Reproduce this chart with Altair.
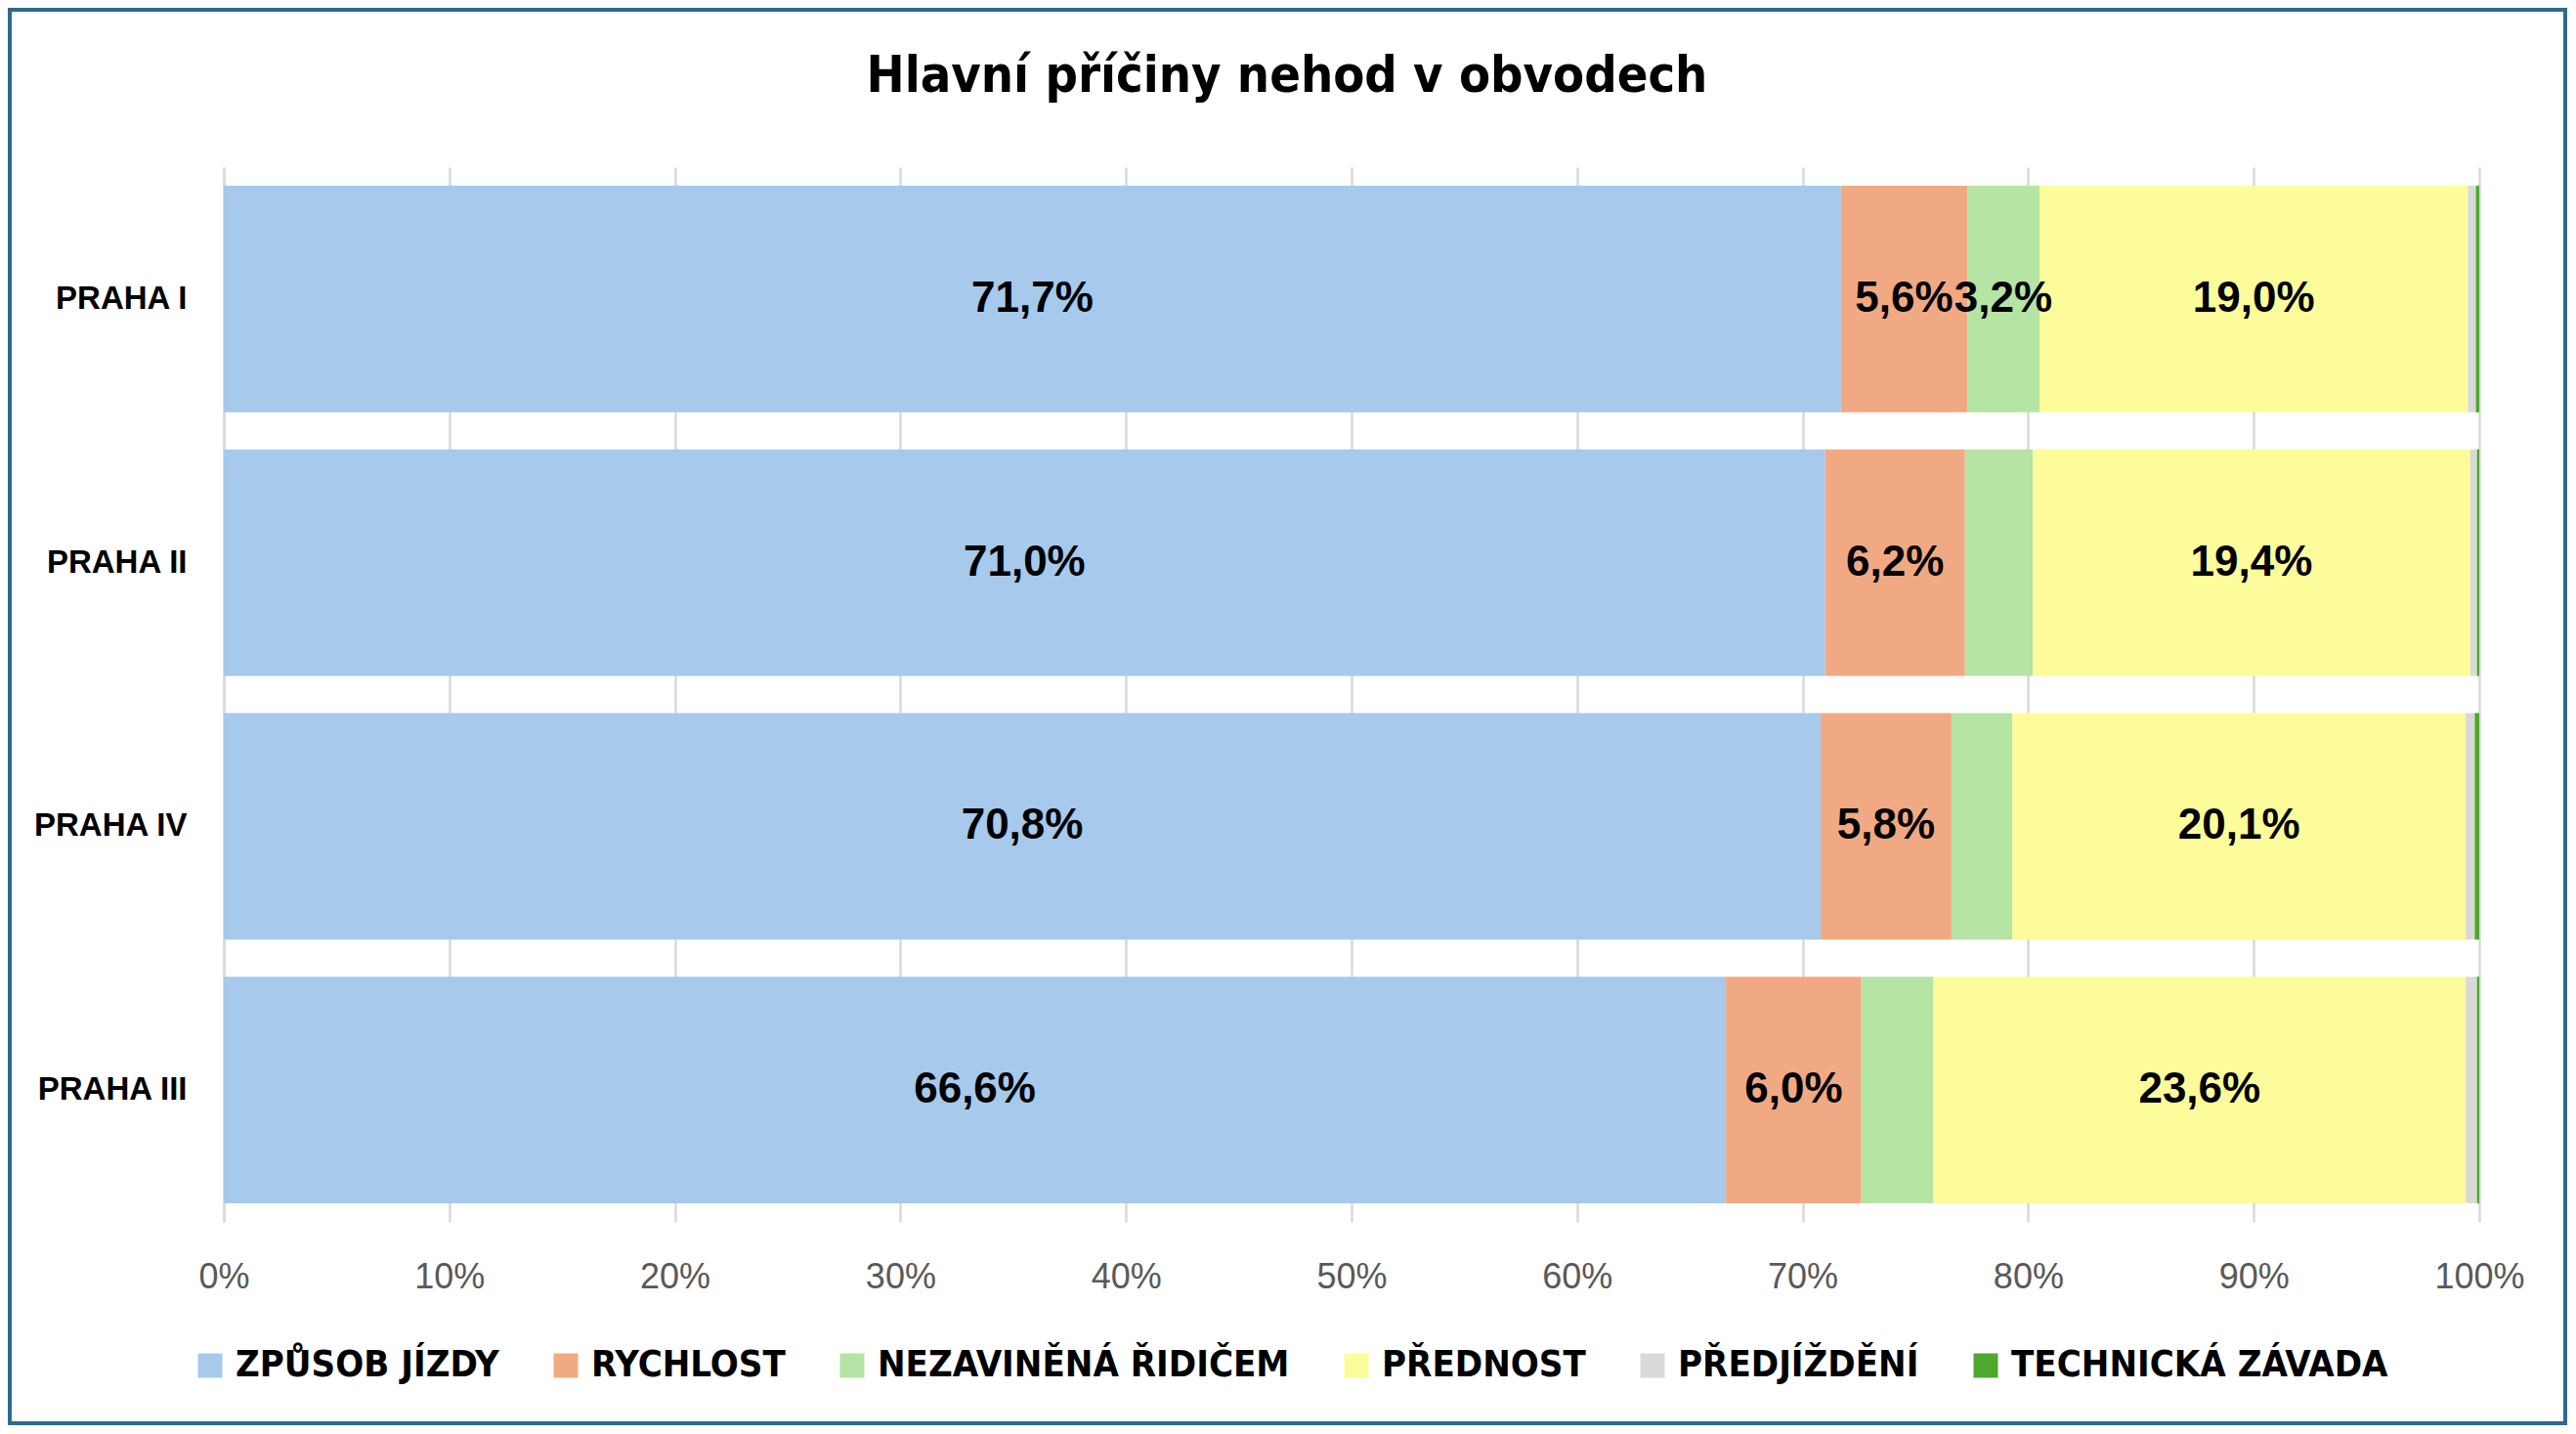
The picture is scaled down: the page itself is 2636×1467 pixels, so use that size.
import altair as alt
import pandas as pd

districts = ["PRAHA I", "PRAHA II", "PRAHA IV", "PRAHA III"]
causes = ["ZPŮSOB JÍZDY", "RYCHLOST", "NEZAVINĚNÁ ŘIDIČEM", "PŘEDNOST", "PŘEDJÍŽDĚNÍ", "TECHNICKÁ ZÁVADA"]
colors = ["#A6C9EC", "#F1A983", "#B5E4A4", "#FDFC9B", "#D9D9D9", "#4EA72E"]

zpusob_jizdy = [71.7, 71.0, 70.8, 66.6]
rychlost = [5.6, 6.2, 5.8, 6.0]
nezavinena = [3.2, 3.0, 2.7, 3.2]
prednost = [19.0, 19.4, 20.1, 23.6]
predjizdeni = [0.35, 0.3, 0.4, 0.5]
technicka = [0.15, 0.1, 0.2, 0.1]

# which segments carry a data label (per district, in district order)
label_shown = {
    "ZPŮSOB JÍZDY": [True, True, True, True],
    "RYCHLOST": [True, True, True, True],
    "NEZAVINĚNÁ ŘIDIČEM": [True, False, False, False],
    "PŘEDNOST": [True, True, True, True],
    "PŘEDJÍŽDĚNÍ": [False, False, False, False],
    "TECHNICKÁ ZÁVADA": [False, False, False, False],
}

series = [zpusob_jizdy, rychlost, nezavinena, prednost, predjizdeni, technicka]
rows = []
for ci, (cause, vals) in enumerate(zip(causes, series)):
    for di, (d, v) in enumerate(zip(districts, vals)):
        lab = (f"{v:.1f}".replace(".", ",") + "%") if label_shown[cause][di] else ""
        rows.append({"district": d, "cause": cause, "order": ci, "value": v, "label": lab})
df = pd.DataFrame(rows)

FONT_N = "DejaVu Sans Condensed"

base = alt.Chart(df).transform_stack(
    stack="value", as_=["x0", "x1"], groupby=["district"], sort=[alt.SortField("order")]
)

y_enc = alt.Y(
    "district:N",
    sort=districts,
    title=None,
    scale=alt.Scale(paddingInner=0.14, paddingOuter=0.07),
    axis=alt.Axis(
        labelFont="Liberation Sans", labelFontSize=33, labelFontWeight="bold", labelColor="#000000",
        labelPadding=38, ticks=False, domain=True, domainColor="#D9D9D9", domainWidth=2.5, grid=False,
    ),
)

bars = base.mark_bar().encode(
    x=alt.X(
        "x0:Q",
        title=None,
        scale=alt.Scale(domain=[0, 100], nice=False),
        axis=alt.Axis(
            values=[0, 10, 20, 30, 40, 50, 60, 70, 80, 90, 100],
            labelExpr="datum.value + '%'",
            labelFont="Liberation Sans", labelFontSize=36, labelColor="#595959",
            labelPadding=39, labelFlush=False, ticks=False, domain=False,
            grid=True, gridColor="#D9D9D9", gridWidth=2.5,
        ),
    ),
    x2="x1:Q",
    y=y_enc,
    color=alt.Color(
        "cause:N",
        scale=alt.Scale(domain=causes, range=colors),
        sort=causes,
        legend=alt.Legend(
            title=None, orient="none", direction="horizontal", legendX=-33, legendY=1207,
            symbolType="square", symbolSize=625, symbolStrokeWidth=0,
            labelFont=FONT_N, labelFontSize=38, labelFontWeight="bold", labelColor="#000000",
            labelLimit=800, labelOffset=7, columnPadding=49,
        ),
    ),
)

texts = base.transform_calculate(mid="(datum.x0 + datum.x1) / 2").transform_filter(
    "datum.label != ''"
).mark_text(
    font="Liberation Sans", fontSize=44, fontWeight="bold", color="#000000", baseline="middle", align="center"
).encode(
    x=alt.X("mid:Q"),
    y=alt.Y("district:N", sort=districts),
    text="label:N",
)

frame = alt.Chart(pd.DataFrame({"f": [0]})).mark_rect(
    filled=False, stroke="#2E6B8C", strokeWidth=4
).encode(
    x=alt.value(-219), x2=alt.value(2396), y=alt.value(-161), y2=alt.value(1285)
)

chart = alt.layer(bars, texts, frame).properties(
    width=2308,
    height=1079,
    padding=0,
    background="#FFFFFF",
    title=alt.Title(
        "Hlavní příčiny nehod v obvodech",
        font=FONT_N, fontSize=52, fontWeight="bold", color="#000000",
        anchor="middle", offset=-138, baseline="alphabetic", dx=-66,
    ),
).configure_view(stroke=None)

chart.save("out.html", embed_options={"renderer": "svg", "actions": False})
